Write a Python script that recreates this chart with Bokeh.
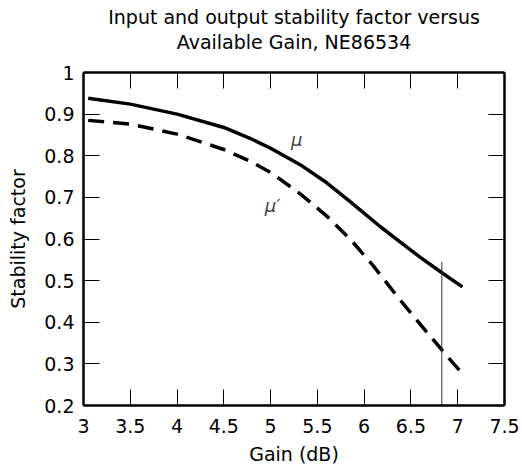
from bokeh.plotting import figure
from bokeh.models import LinearAxis, FixedTicker, Label, Range1d, Title
from bokeh.embed import file_html
from bokeh.resources import INLINE

# Data
gain_mu = [3.05, 3.5, 4.0, 4.5, 4.78, 5.0, 5.32, 5.6, 5.85, 6.17, 6.39, 6.6, 6.85, 7.05]
mu = [0.938, 0.924, 0.900, 0.868, 0.842, 0.818, 0.778, 0.735, 0.690, 0.630, 0.592, 0.556, 0.516, 0.485]

gain_mu_p = [3.05, 3.5, 4.0, 4.5, 4.78, 5.0, 5.32, 5.6, 5.85, 6.1, 6.35, 6.6, 6.85, 7.06]
mu_p = [0.885, 0.876, 0.852, 0.815, 0.787, 0.760, 0.708, 0.655, 0.600, 0.535, 0.463, 0.395, 0.328, 0.274]

marker_x = [6.83]
marker_y0 = [0.2]
marker_y1 = [0.545]

x_ticks = [3, 3.5, 4, 4.5, 5, 5.5, 6, 6.5, 7, 7.5]
x_labels = ["3", "3.5", "4", "4.5", "5", "5.5", "6", "6.5", "7", "7.5"]
y_ticks = [0.2, 0.3, 0.4, 0.5, 0.6, 0.7, 0.8, 0.9, 1.0]
y_labels = ["0.2", "0.3", "0.4", "0.5", "0.6", "0.7", "0.8", "0.9", "1"]

title_lines = ["Input and output stability factor versus", "Available Gain, NE86534"]

FONT = "DejaVu Sans"
FS = "19px"

p = figure(width=522, height=475, output_backend="svg", toolbar_location=None,
           x_range=Range1d(3, 7.5), y_range=Range1d(0.2, 1.0),
           x_axis_location=None, y_axis_location=None,
           min_border_left=83, min_border_right=18, min_border_top=72, min_border_bottom=70,
           title=None)
p.grid.visible = False

bottom = LinearAxis(axis_label="Gain (dB)")
left = LinearAxis(axis_label="Stability factor")
top = LinearAxis(axis_label=title_lines[1])
right = LinearAxis()
p.add_layout(bottom, "below")
p.add_layout(left, "left")
p.add_layout(top, "above")
p.add_layout(right, "right")

p.add_layout(Title(text=title_lines[0], align="center", text_font=FONT, text_font_size=FS,
                   text_font_style="normal", text_color="black", standoff=0), "above")

p.outline_line_color = None

for ax, ticks, labels in [(bottom, x_ticks, x_labels), (top, x_ticks, x_labels)]:
    ax.ticker = FixedTicker(ticks=ticks)
    ax.major_label_overrides = {t: l for t, l in zip(ticks, labels)}
for ax, ticks, labels in [(left, y_ticks, y_labels), (right, y_ticks, y_labels)]:
    ax.ticker = FixedTicker(ticks=ticks)
    ax.major_label_overrides = {t: l for t, l in zip(ticks, labels)}

for ax in [bottom, left, top, right]:
    ax.axis_line_width = 2.5
    ax.axis_line_color = "black"
    ax.major_tick_in = 16
    ax.major_tick_out = 0
    ax.major_tick_line_color = "black"
    ax.major_tick_line_width = 1
    ax.minor_tick_line_color = None
    ax.major_label_text_font = FONT
    ax.major_label_text_font_size = FS
    ax.major_label_text_color = "black"
    ax.axis_label_text_font = FONT
    ax.axis_label_text_font_size = FS
    ax.axis_label_text_font_style = "normal"
    ax.axis_label_text_color = "black"

for ax in [top, right]:
    ax.major_label_text_font_size = "0px"
    ax.major_label_text_color = None
    ax.major_label_standoff = 0

top.axis_label_standoff = 20
bottom.major_label_standoff = 13
left.major_label_standoff = 9
bottom.axis_label_standoff = 7
left.axis_label_standoff = 12

p.line(gain_mu, mu, line_color="black", line_width=3.5)
p.line(gain_mu_p, mu_p, line_color="black", line_width=3.5, line_dash="16 9")
p.segment(x0=marker_x, y0=marker_y0, x1=marker_x, y1=marker_y1, line_color="#333333", line_width=1)

p.add_layout(Label(x=5.28, y=0.84, text="μ", text_font=FONT, text_font_size="18px",
                   text_font_style="italic", text_align="center", text_baseline="middle"))
p.add_layout(Label(x=5.02, y=0.68, text="μ′", text_font=FONT, text_font_size="18px",
                   text_font_style="italic", text_align="center", text_baseline="middle"))

open("out.html", "w").write(file_html(p, INLINE))
